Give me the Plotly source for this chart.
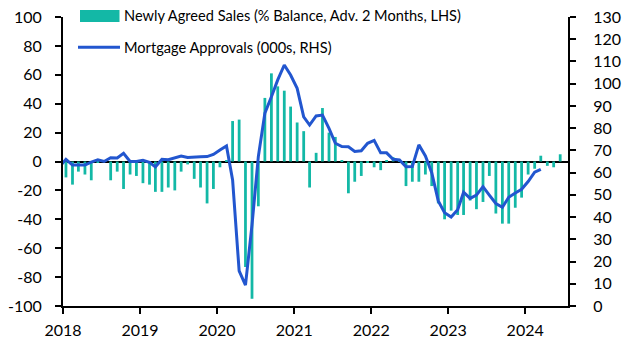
import plotly.graph_objects as go
import pandas as pd

# ---------------- data ----------------
bar_months = pd.date_range("2018-01-01", periods=78, freq="MS") + pd.Timedelta(days=14)
sales_balance = [
    # 2018
    -11, -16, -7, -9, -13, -1, 0, -13, -7, -19, -9, -10,
    # 2019
    -15, -16, -21, -21, -18, -20, -7, -2, -12, -18, -29, -19,
    # 2020
    -4, 1, 28, 29, -73, -95, -31, 44, 61, 52, 49, 38,
    # 2021
    27, 21, -18, 6, 37, 20, 17, 1, -22, -14, -10, -1,
    # 2022
    -4, -6, 1, 3, 1, -17, -14, -14, -9, -17, -29, -40,
    # 2023
    -34, -37, -37, -27, -33, -28, -10, -36, -43, -43, -32, -25,
    # 2024
    -9, -5, 4, -3, -4, 5,
]

line_months = pd.date_range("2017-12-01", periods=76, freq="MS") + pd.Timedelta(days=14)
mortgage_approvals = [
    62.5,
    # 2018
    66, 63.4, 63.4, 63.4, 64.7, 65.8, 65, 66.7, 66.6, 68.7, 65, 65,
    # 2019
    65.5, 64.6, 62.6, 66, 65.8, 66.8, 67.5, 66.8, 66.8, 67.1, 67.2, 68.2,
    # 2020
    70.2, 72, 56.7, 15.8, 9.4, 36.5, 67.2, 86.7, 94.1, 101.7, 108.4, 103.9,
    # 2021
    97.9, 85.1, 81.4, 85.5, 85.9, 79.9, 73.2, 71.7, 71.6, 69.5, 69.8, 73.2,
    # 2022
    74.5, 68.9, 68.9, 66, 65.7, 62.6, 62.7, 72.5, 67.5, 60, 47.3, 42,
    # 2023
    40, 43.3, 51.2, 48.4, 49.9, 53.7, 49.9, 46.1, 44.4, 48.9, 50.8, 52.5,
    # 2024
    56, 60.2, 61.5,
]

left_ticks = [-100, -80, -60, -40, -20, 0, 20, 40, 60, 80, 100]
left_labels = ["-100", "-80", "-60", "-40", "-20", "0", "20", "40", "60", "80", "100"]
right_ticks = list(range(0, 131, 10))
right_labels = [str(v) for v in right_ticks]
year_ticks = ["2018-01-01", "2019-01-01", "2020-01-01", "2021-01-01",
              "2022-01-01", "2023-01-01", "2024-01-01"]
year_labels = ["2018", "2019", "2020", "2021", "2022", "2023", "2024"]

bar_name = "Newly Agreed Sales (% Balance, Adv. 2 Months, LHS)"
line_name = "Mortgage Approvals (000s, RHS)"

BAR_COLOR = "#13B8A6"
LINE_COLOR = "#2256CF"
FONT = "Lato"

# ---------------- layout geometry ----------------
W, H = 626, 357
L, R, T, B = 63, 58, 17, 51
PW, PH = W - L - R, H - T - B


def px_x(x):
    return (x - L) / PW


def px_y(y):
    return (H - B - y) / PH


fig = go.Figure()
fig.add_trace(go.Bar(x=bar_months, y=sales_balance, name=bar_name,
                     marker=dict(color=BAR_COLOR, line=dict(width=0)),
                     showlegend=False, yaxis="y"))
fig.add_trace(go.Scatter(x=line_months, y=mortgage_approvals, name=line_name,
                         mode="lines", line=dict(color=LINE_COLOR, width=3),
                         showlegend=False, yaxis="y2"))

axis_common = dict(showgrid=False, ticks="outside", ticklen=6, tickwidth=2,
                   tickcolor="black", showline=True, linecolor="black", linewidth=2,
                   automargin=False,
                   tickfont=dict(family=FONT, size=16, color="black"))

fig.update_layout(
    width=W, height=H,
    margin=dict(l=L, r=R, t=T, b=B, autoexpand=False),
    plot_bgcolor="white", paper_bgcolor="white",
    bargap=0.53,
    xaxis=dict(type="date", range=["2018-01-01", "2024-07-22"],
               tickmode="array", tickvals=year_ticks, ticktext=year_labels,
               ticklabelstandoff=3, **axis_common),
    yaxis=dict(range=[-100, 100], tickmode="array", tickvals=left_ticks,
               ticktext=left_labels, zeroline=True, zerolinecolor="black",
               zerolinewidth=2, ticklabelstandoff=10, **axis_common),
    yaxis2=dict(range=[0, 130], tickmode="array", tickvals=right_ticks,
                ticktext=right_labels, overlaying="y", side="right",
                zeroline=False, ticklabelstandoff=14, **axis_common),
    font=dict(family=FONT, size=16, color="black"),
)

# manual legend
fig.add_shape(type="rect", xref="paper", yref="paper",
              x0=px_x(80), x1=px_x(119.5), y0=px_y(22), y1=px_y(10),
              fillcolor=BAR_COLOR, line=dict(width=0))
fig.add_shape(type="line", xref="paper", yref="paper",
              x0=px_x(78), x1=px_x(120), y0=px_y(47.3), y1=px_y(47.3),
              line=dict(color=LINE_COLOR, width=3))
fig.add_annotation(x=px_x(122), y=px_y(16), xref="paper", yref="paper",
                   text=bar_name, showarrow=False, xanchor="left", yanchor="middle",
                   font=dict(family=FONT, size=14.6, color="black"))
fig.add_annotation(x=px_x(122), y=px_y(47.5), xref="paper", yref="paper",
                   text=line_name, showarrow=False, xanchor="left", yanchor="middle",
                   font=dict(family=FONT, size=14.6, color="black"))

fig.write_html(
    "out.html",
    config={"displayModeBar": False},
    post_script="document.body.style.margin='0';document.body.style.overflow='hidden';",
)
